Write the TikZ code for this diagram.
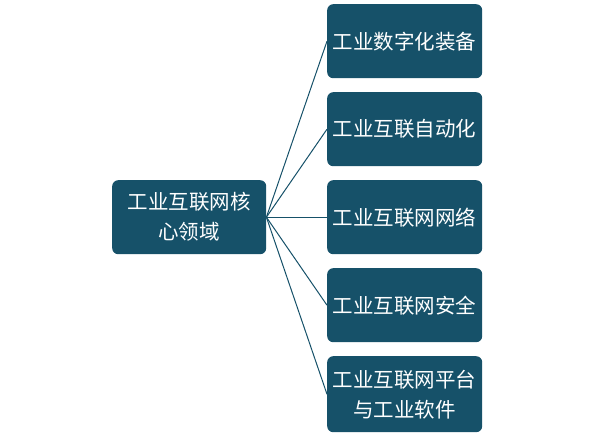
\documentclass[tikz,border=0pt]{standalone}
\usepackage{fontspec}
\setmainfont{Noto Sans CJK SC}
\definecolor{teal1}{RGB}{22,81,105}
\begin{document}
\begin{tikzpicture}[x=1pt,y=-1pt,
  box/.style={draw=none,fill=teal1,rounded corners=6pt,text=white,font=\fontsize{20.5}{30}\selectfont,align=center,anchor=north west,inner sep=0pt},
  link/.style={draw=teal1,line width=1pt}]
\useasboundingbox (0,0) rectangle (600,434);
\node[box,minimum width=154pt,minimum height=74pt] (c) at (112,180) {工业互联网核\\心领域};
\node[box,minimum width=155pt,minimum height=74pt] (r1) at (327,4) {工业数字化装备};
\node[box,minimum width=155pt,minimum height=74pt] (r2) at (327,92) {工业互联自动化};
\node[box,minimum width=155pt,minimum height=74pt] (r3) at (327,180) {工业互联网网络};
\node[box,minimum width=155pt,minimum height=74pt] (r4) at (327,268) {工业互联网安全};
\node[box,minimum width=155pt,minimum height=76pt] (r5) at (327,356) {工业互联网平台\\与工业软件};
\foreach \r in {r1,r2,r3,r4,r5} \draw[link] (c.east) -- (\r.west);
\end{tikzpicture}
\end{document}
